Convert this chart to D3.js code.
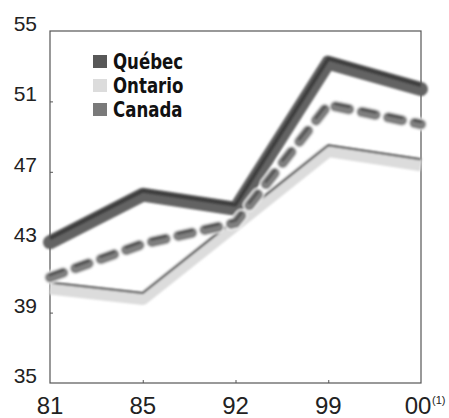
<!DOCTYPE html>
<html>
<head>
<meta charset="utf-8">
<script src="https://cdn.jsdelivr.net/npm/d3@7"></script>
<style>
  html, body { margin: 0; padding: 0; background: #fff; }
  svg { display: block; }
</style>
</head>
<body>
<svg id="chart" width="449" height="418"></svg>
<script>
// Years on the horizontal axis
const years = ["81", "85", "92", "99", "00"];
// Rates per region, one value per year
const quebec  = [43.0, 45.7, 44.9, 53.2, 51.7];
const ontario = [40.4, 39.8, 44.0, 48.2, 47.4];
const canada  = [41.0, 42.9, 44.1, 50.8, 49.7];
// Vertical tick labels
const yTicks = [35, 39, 43, 47, 51, 55];
const seriesNames = ["Québec", "Ontario", "Canada"];

const svg = d3.select("#chart");
const plotLeft = 50, plotRight = 421, plotTop = 31, plotBottom = 383;

const x = d3.scalePoint().domain(years).range([plotLeft, plotRight]);
const y = d3.scaleLinear().domain([35, 55]).range([plotBottom, plotTop]);

// soft edges on the ribbons
const defs = svg.append("defs");
defs.append("filter").attr("id", "soft")
  .attr("x", "-10%").attr("y", "-10%").attr("width", "120%").attr("height", "120%")
  .append("feGaussianBlur").attr("stdDeviation", 0.8);

// frame
svg.append("rect")
  .attr("x", plotLeft).attr("y", plotTop)
  .attr("width", plotRight - plotLeft).attr("height", plotBottom - plotTop)
  .attr("fill", "none").attr("stroke", "#555").attr("stroke-width", 1.2);

// inner tick marks
const yAxis = d3.axisRight(y).tickValues(yTicks.slice(1, -1)).tickSize(3).tickFormat("");
svg.append("g").attr("transform", `translate(${plotLeft},0)`).call(yAxis)
  .call(g => g.select(".domain").remove())
  .call(g => g.selectAll("line").attr("stroke", "#555"));
const xAxis = d3.axisTop(x).tickValues(years.slice(1, -1)).tickSize(3).tickFormat("");
svg.append("g").attr("transform", `translate(0,${plotBottom})`).call(xAxis)
  .call(g => g.select(".domain").remove())
  .call(g => g.selectAll("line").attr("stroke", "#555"));

// y labels
svg.append("g").selectAll("text").data(yTicks).join("text")
  .attr("x", 37).attr("y", d => y(d))
  .attr("text-anchor", "end")
  .attr("font-family", "Liberation Sans, Arial, sans-serif")
  .attr("font-size", 21).attr("fill", "#222")
  .text(d => d);

// x labels
svg.append("g").selectAll("text").data(years).join("text")
  .attr("x", d => x(d) - (d === "00" ? 3 : 0)).attr("y", 414)
  .attr("text-anchor", "middle")
  .attr("font-family", "Liberation Sans, Arial, sans-serif")
  .attr("font-size", 24).attr("fill", "#222")
  .text(d => d);
svg.append("text")
  .attr("x", x("00") + 11).attr("y", 404)
  .attr("font-family", "Liberation Sans, Arial, sans-serif")
  .attr("font-size", 11).attr("fill", "#222")
  .text("(1)");

const line = d3.line().x((d, i) => x(years[i])).y(d => y(d));
const lines = svg.append("g").attr("filter", "url(#soft)");

// Ontario: light ribbon with a dark upper edge
lines.append("path").attr("d", line(ontario))
  .attr("fill", "none").attr("stroke", "#dcdcdc").attr("stroke-width", 13)
  .attr("stroke-linejoin", "round");
lines.append("path").attr("d", line(ontario))
  .attr("transform", "translate(0,-5.5)")
  .attr("fill", "none").attr("stroke", "#444").attr("stroke-width", 2)
  .attr("stroke-linejoin", "round");

// Québec: dark ribbon, darker along the top
lines.append("path").attr("d", line(quebec))
  .attr("fill", "none").attr("stroke", "#636363").attr("stroke-width", 14)
  .attr("stroke-linejoin", "round").attr("stroke-linecap", "round");
lines.append("path").attr("d", line(quebec))
  .attr("transform", "translate(0,-4)")
  .attr("fill", "none").attr("stroke", "#3c3c3c").attr("stroke-width", 4)
  .attr("stroke-linejoin", "round");

// Canada: rounded dashes with a pale halo
lines.append("path").attr("d", line(canada))
  .attr("fill", "none").attr("stroke", "#f4f4f4").attr("stroke-width", 13)
  .attr("stroke-dasharray", "14 13").attr("stroke-linecap", "round");
lines.append("path").attr("d", line(canada))
  .attr("fill", "none").attr("stroke", "#7f7f7f").attr("stroke-width", 10)
  .attr("stroke-dasharray", "14 13").attr("stroke-linecap", "round");
lines.append("path").attr("d", line(canada))
  .attr("transform", "translate(0,-2.5)")
  .attr("fill", "none").attr("stroke", "#555").attr("stroke-width", 3)
  .attr("stroke-dasharray", "14 13").attr("stroke-linecap", "round");

// legend
const swatch = ["#585858", "#dcdcdc", "#7a7a7a"];
const lg = svg.append("g").selectAll("g").data(seriesNames).join("g")
  .attr("transform", (d, i) => `translate(93,${55 + i * 24})`);
lg.append("rect").attr("width", 14).attr("height", 13)
  .attr("fill", (d, i) => swatch[i]);
lg.append("text")
  .attr("transform", "translate(20,14) scale(0.84,1)")
  .attr("font-family", "Liberation Sans Narrow, DejaVu Sans Condensed, Arial Narrow, sans-serif")
  .attr("font-weight", "bold").attr("font-size", 22).attr("fill", "#111")
  .text(d => d);
</script>
</body>
</html>
